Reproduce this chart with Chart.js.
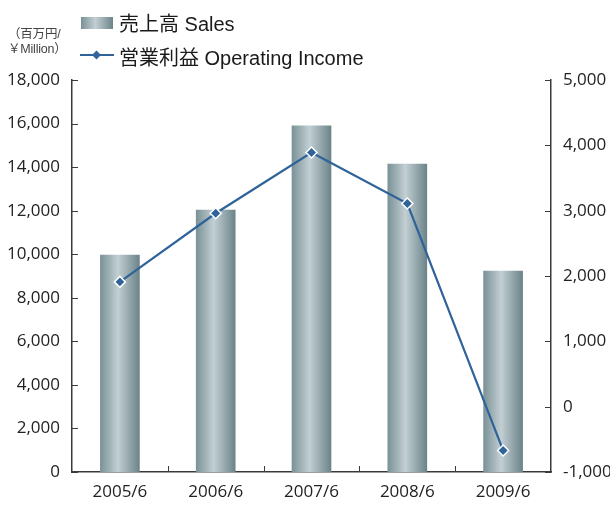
<!DOCTYPE html>
<html>
<head>
<meta charset="utf-8">
<script src="https://cdn.jsdelivr.net/npm/chart.js@4"></script>
<style>
  html, body { margin: 0; padding: 0; background: #fff; overflow: hidden; }
  #wrap { position: relative; width: 610px; height: 506px; }
  #myChart { position: absolute; left: 0; top: 0; }
  .unit { position: absolute; left: 8px; font: 12.5px "Liberation Sans", "Noto Sans CJK JP", sans-serif; color: #444; letter-spacing: -0.2px; white-space: nowrap; }
  .leg { position: absolute; left: 119px; font: 20px "Liberation Sans", "Noto Sans CJK JP", sans-serif; color: #1a1a1a; white-space: nowrap; }
  .swatch { position: absolute; left: 81px; top: 17px; width: 32px; height: 12px;
    background: linear-gradient(to right, #7a9297, #c2cfd3 45%, #6b8489); }
  .lineSw { position: absolute; left: 80px; top: 49px; }
</style>
</head>
<body>
<div id="wrap">
  <canvas id="myChart" width="610" height="506"></canvas>
  <div class="unit" style="top:23px">（百万円/</div>
  <div class="unit" style="top:38px">￥Million）</div>
  <div class="swatch"></div>
  <div class="leg" style="top:8px">売上高 Sales</div>
  <svg class="lineSw" width="36" height="12">
    <line x1="0" y1="6" x2="34" y2="6" stroke="#2f6399" stroke-width="2.2"/>
    <polygon points="16.5,1.5 21,6 16.5,10.5 12,6" fill="#2f6399"/>
  </svg>
  <div class="leg" style="top:42px">営業利益 Operating Income</div>
</div>
<script>
const years = ['2005/6', '2006/6', '2007/6', '2008/6', '2009/6'];
const sales = [9960, 12030, 15890, 14140, 9230];
const operatingIncome = [1910, 2960, 3890, 3110, -670];

const leftTicks = { min: 0, max: 18000, step: 2000 };
const rightTicks = { min: -1000, max: 5000, step: 1000 };

const BAR_W = 39;

function barGradient(context) {
    const chart = context.chart;
    const {ctx, chartArea, scales} = chart;
    if (!chartArea || !scales.x) return '#9aadb1';
    const c = scales.x.getPixelForValue(context.dataIndex);
    const g = ctx.createLinearGradient(c - BAR_W / 2, 0, c + BAR_W / 2, 0);
    g.addColorStop(0, '#7a9297');
    g.addColorStop(0.45, '#c2cfd3');
    g.addColorStop(1, '#6b8489');
    return g;
}

function fmt(v) {
    return v.toLocaleString('en-US');
}

// short tick marks drawn toward the inside of the plot
const innerTicks = {
    id: 'innerTicks',
    afterDraw(chart) {
        const {ctx, chartArea: a, scales} = chart;
        ctx.save();
        ctx.strokeStyle = '#3a3a3a';
        ctx.lineWidth = 1;
        scales.y.ticks.forEach((t, i) => {
            const y = Math.round(scales.y.getPixelForTick(i)) + 0.5;
            ctx.beginPath(); ctx.moveTo(a.left, y); ctx.lineTo(a.left + 6, y); ctx.stroke();
        });
        scales.y1.ticks.forEach((t, i) => {
            const y = Math.round(scales.y1.getPixelForTick(i)) + 0.5;
            ctx.beginPath(); ctx.moveTo(a.right, y); ctx.lineTo(a.right - 6, y); ctx.stroke();
        });
        const step = (a.right - a.left) / years.length;
        for (let k = 1; k < years.length; k++) {
            const x = Math.round(a.left + step * k) + 0.5;
            ctx.beginPath(); ctx.moveTo(x, a.bottom); ctx.lineTo(x, a.bottom - 6); ctx.stroke();
        }
        ctx.restore();
    }
};

const tickFont = { family: '"Open Sans", "DejaVu Sans", sans-serif', size: 17 };

let myChart = document.getElementById('myChart').getContext('2d');
let comboChart = new Chart(myChart, {
    type: 'bar',
    data: {
        labels: years,
        datasets: [{
            type: 'line',
            label: '営業利益 Operating Income',
            data: operatingIncome,
            yAxisID: 'y1',
            order: 0,
            borderColor: '#2f6399',
            borderWidth: 2.2,
            pointStyle: 'rectRot',
            pointRadius: 5.5,
            pointBackgroundColor: '#2f6399',
            pointBorderColor: '#ffffff',
            pointBorderWidth: 1.5,
            tension: 0
        }, {
            label: '売上高 Sales',
            data: sales,
            yAxisID: 'y',
            order: 1,
            backgroundColor: barGradient,
            barThickness: BAR_W
        }]
    },
    options: {
        responsive: false,
        animation: false,
        layout: { padding: { top: 80, left: 0, right: 0, bottom: 0 } },
        plugins: {
            legend: { display: false },
            tooltip: { enabled: false }
        },
        scales: {
            x: {
                grid: { display: false, drawTicks: false },
                border: { display: true, color: '#3a3a3a', width: 1.5 },
                ticks: { color: '#222', font: tickFont, padding: 10, maxRotation: 0 },
                afterFit(s) { s.height = 34; }
            },
            y: {
                position: 'left',
                min: leftTicks.min,
                max: leftTicks.max,
                grid: { display: false, drawTicks: false },
                border: { display: true, color: '#3a3a3a', width: 1.5 },
                ticks: { stepSize: leftTicks.step, color: '#222', font: tickFont, padding: 12, callback: fmt },
                afterFit(s) { s.width = 72; }
            },
            y1: {
                position: 'right',
                min: rightTicks.min,
                max: rightTicks.max,
                grid: { display: false, drawTicks: false },
                border: { display: true, color: '#3a3a3a', width: 1.5 },
                ticks: { stepSize: rightTicks.step, color: '#222', font: tickFont, padding: 12, callback: fmt },
                afterFit(s) { s.width = 59; }
            }
        }
    },
    plugins: [innerTicks]
});
</script>
</body>
</html>
